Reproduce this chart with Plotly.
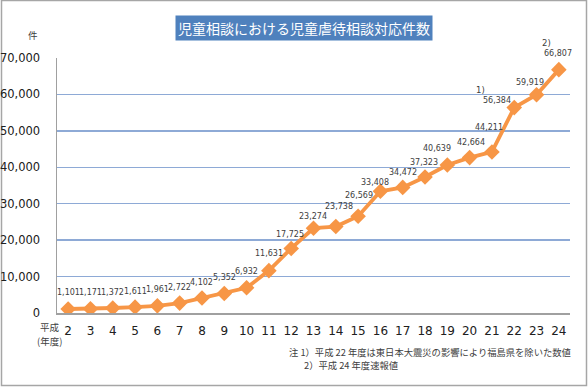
import plotly.graph_objects as go

years = ["2","3","4","5","6","7","8","9","10","11","12","13","14","15","16","17","18","19","20","21","22","23","24"]
cases = [1101,1171,1372,1611,1961,2722,4102,5352,6932,11631,17725,23274,23738,26569,33408,34472,37323,40639,42664,44211,56384,59919,66807]
label_text = ["1,101","1,171","1,372","1,611","1,961","2,722","4,102","5,352","6,932","11,631","17,725","23,274","23,738","26,569","33,408","34,472","37,323","40,639","42,664","44,211","56,384","59,919","66,807"]
y_ticks = [0,10000,20000,30000,40000,50000,60000,70000]
y_tick_text = ["0","10,000","20,000","30,000","40,000","50,000","60,000","70,000"]
title = "児童相談における児童虐待相談対応件数"
notes = ["注 1）平成 22 年度は東日本大震災の影響により福島県を除いた数値", "2）平成 24 年度速報値"]

# label offsets (px) relative to each point
lx = [0,0,0,0,0,0,0,0,0,0,-1,-1,3,1,-5,0,-1,-10,1,-3,-17,-7,-1]
ly = [16,16,16,16,16,16,16,16,16,17,14,12,20,21,9,15,15,16,15,24,7,12,16]

W, H = 588, 387
L, R, T, B = 57, 18, 58, 74
pw, ph = W - L - R, H - T - B

def px(x):
    return (x - L) / pw

def py(y):
    return (H - B - y) / ph

jp = "Noto Sans CJK JP"
num = "DejaVu Sans"

fig = go.Figure()
fig.add_trace(go.Scatter(
    x=years, y=cases, mode="lines+markers",
    line=dict(color="#F79646", width=3.8),
    marker=dict(symbol="diamond", size=12, color="#F79646"),
    hoverinfo="skip", showlegend=False,
))

ann = []
for i, (v, t) in enumerate(zip(cases, label_text)):
    ann.append(dict(x=i, y=v, text=t, showarrow=False, xshift=lx[i], yshift=ly[i],
                    xanchor="center", yanchor="middle",
                    font=dict(family=num, size=8, color="#404040")))

i22 = years.index("22")
i24 = years.index("24")
ann.append(dict(x=i22, y=cases[i22], text="1)", showarrow=False, xshift=-34, yshift=18,
                xanchor="center", yanchor="middle",
                font=dict(family=num, size=8.5, color="#404040")))
ann.append(dict(x=i24, y=cases[i24], text="2)", showarrow=False, xshift=-12, yshift=27,
                xanchor="center", yanchor="middle",
                font=dict(family=num, size=8.5, color="#404040")))

def paper_text(x, y, text, size, xanchor="center", **kw):
    ann.append(dict(xref="paper", yref="paper", x=px(x), y=py(y), text=text, showarrow=False,
                    xanchor=xanchor, yanchor="middle",
                    font=dict(family=jp, size=size, color=kw.pop("color", "#404040")), **kw))

paper_text(304, 28, title, 14, color="white", bgcolor="#4F81BD", borderpad=2)
paper_text(33, 35, "件", 9.5)
paper_text(62, 327, "平成", 9.5, xanchor="right")
paper_text(64, 341, "(年度)", 9.5, xanchor="right")
paper_text(287, 352, notes[0], 9.3, xanchor="left")
paper_text(302, 365, notes[1], 9.3, xanchor="left")

shapes = [dict(type="rect", xref="paper", yref="paper", x0=px(1.5), x1=px(586.5), y0=py(385.5), y1=py(0.5),
               line=dict(color="#A6A6A6", width=1.5), fillcolor="rgba(0,0,0,0)", layer="below")]

fig.update_layout(
    width=W, height=H,
    margin=dict(l=L, r=R, t=T, b=B, autoexpand=False),
    paper_bgcolor="white", plot_bgcolor="white",
    annotations=ann, shapes=shapes,
    xaxis=dict(type="category", range=[-0.5, 22.5], showgrid=False,
               showline=True, linecolor="#A0A0A0", linewidth=1.5, ticks="",
               tickfont=dict(family=num, size=12, color="#202020"), ticklabelstandoff=6),
    yaxis=dict(range=[0, 70000], tickvals=y_ticks, ticktext=y_tick_text,
               showgrid=True, gridcolor="#8EAAD6", gridwidth=1.5, zeroline=False,
               showline=True, linecolor="#A0A0A0", linewidth=1.5, ticks="",
               tickfont=dict(family=num, size=11.5, color="#202020"), ticklabelstandoff=13),
)

fig.write_html("out.html", config={"displayModeBar": False, "staticPlot": True},
               post_script="document.body.style.margin='0';document.body.style.overflow='hidden';")
